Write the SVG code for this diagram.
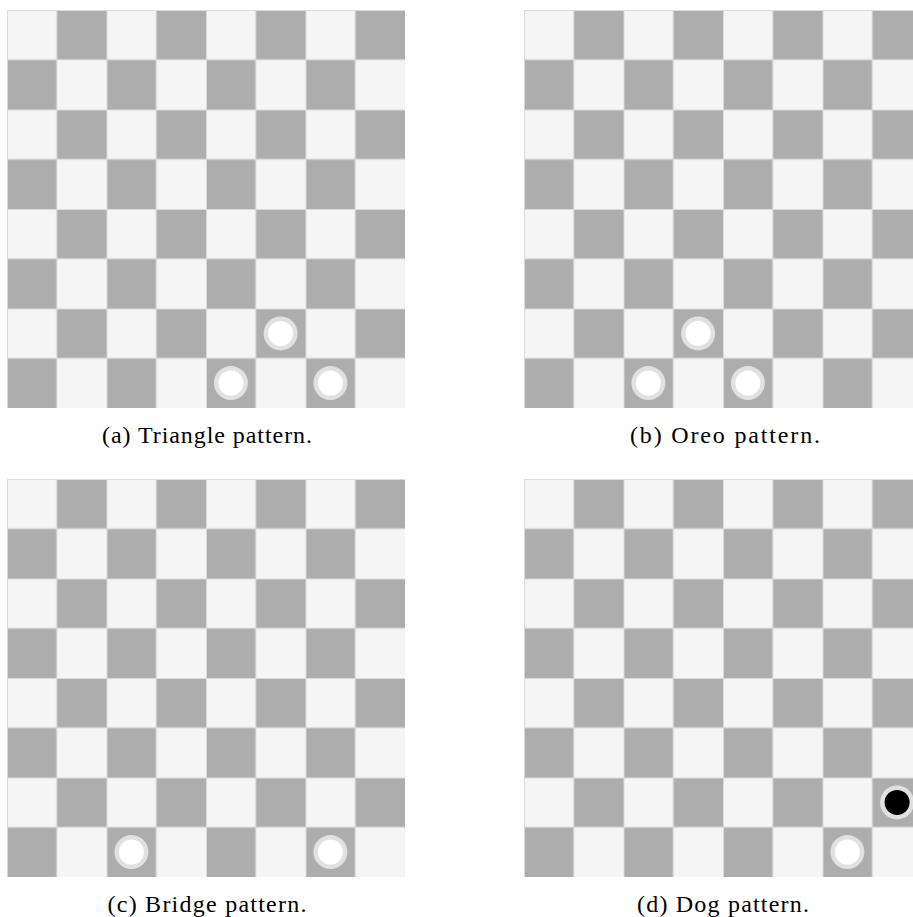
<svg xmlns="http://www.w3.org/2000/svg" width="913" height="917" viewBox="0 0 913 917">
<style>
.cap{font-family:"Liberation Serif","DejaVu Serif",serif;font-size:24px;fill:#000;text-anchor:middle}
.ring{fill:#e1e1e1}
.white{fill:#ffffff}
.black{fill:#000000}
</style>
<defs>
<pattern id="checker" patternUnits="userSpaceOnUse" x="0" y="0" width="99.5" height="99.5">
<rect x="0" y="0" width="99.5" height="99.5" fill="#f5f5f5"/>
<rect x="49.75" y="0" width="49.75" height="49.75" fill="#adadad"/>
<rect x="0" y="49.75" width="49.75" height="49.75" fill="#adadad"/>
<path d="M49.75 0V99.5M0 49.75H99.5M0.5 0V99.5M0 0.5H99.5" stroke="#dadada" stroke-width="1" fill="none"/>
</pattern>
</defs>
<rect width="913" height="917" fill="#ffffff"/>
<g id="board-a" transform="translate(7,10)">
<rect width="398" height="398" fill="url(#checker)"/>
<circle class="ring" cx="273.6" cy="323.4" r="17"/><circle class="white" cx="273.6" cy="323.4" r="12.5"/>
<circle class="ring" cx="223.9" cy="373.1" r="17"/><circle class="white" cx="223.9" cy="373.1" r="12.5"/>
<circle class="ring" cx="323.4" cy="373.1" r="17"/><circle class="white" cx="323.4" cy="373.1" r="12.5"/>
</g>
<g id="board-b" transform="translate(524,10)">
<rect width="398" height="398" fill="url(#checker)"/>
<circle class="ring" cx="174.1" cy="323.4" r="17"/><circle class="white" cx="174.1" cy="323.4" r="12.5"/>
<circle class="ring" cx="124.4" cy="373.1" r="17"/><circle class="white" cx="124.4" cy="373.1" r="12.5"/>
<circle class="ring" cx="223.9" cy="373.1" r="17"/><circle class="white" cx="223.9" cy="373.1" r="12.5"/>
</g>
<g id="board-c" transform="translate(7,479)">
<rect width="398" height="398" fill="url(#checker)"/>
<circle class="ring" cx="124.4" cy="373.1" r="17"/><circle class="white" cx="124.4" cy="373.1" r="12.5"/>
<circle class="ring" cx="323.4" cy="373.1" r="17"/><circle class="white" cx="323.4" cy="373.1" r="12.5"/>
</g>
<g id="board-d" transform="translate(524,479)">
<rect width="398" height="398" fill="url(#checker)"/>
<circle class="ring" cx="323.4" cy="373.1" r="17"/><circle class="white" cx="323.4" cy="373.1" r="12.5"/>
<circle class="ring" cx="373.1" cy="323.4" r="17"/><circle class="black" cx="373.1" cy="323.4" r="12.5"/>
</g>
<g id="captions">
<text class="cap" x="207" y="443" textLength="210" lengthAdjust="spacing">(a) Triangle pattern.</text>
<text class="cap" x="725" y="443" textLength="190" lengthAdjust="spacing">(b) Oreo pattern.</text>
<text class="cap" x="207" y="912" textLength="199" lengthAdjust="spacing">(c) Bridge pattern.</text>
<text class="cap" x="723" y="912" textLength="172" lengthAdjust="spacing">(d) Dog pattern.</text>
</g>
</svg>
